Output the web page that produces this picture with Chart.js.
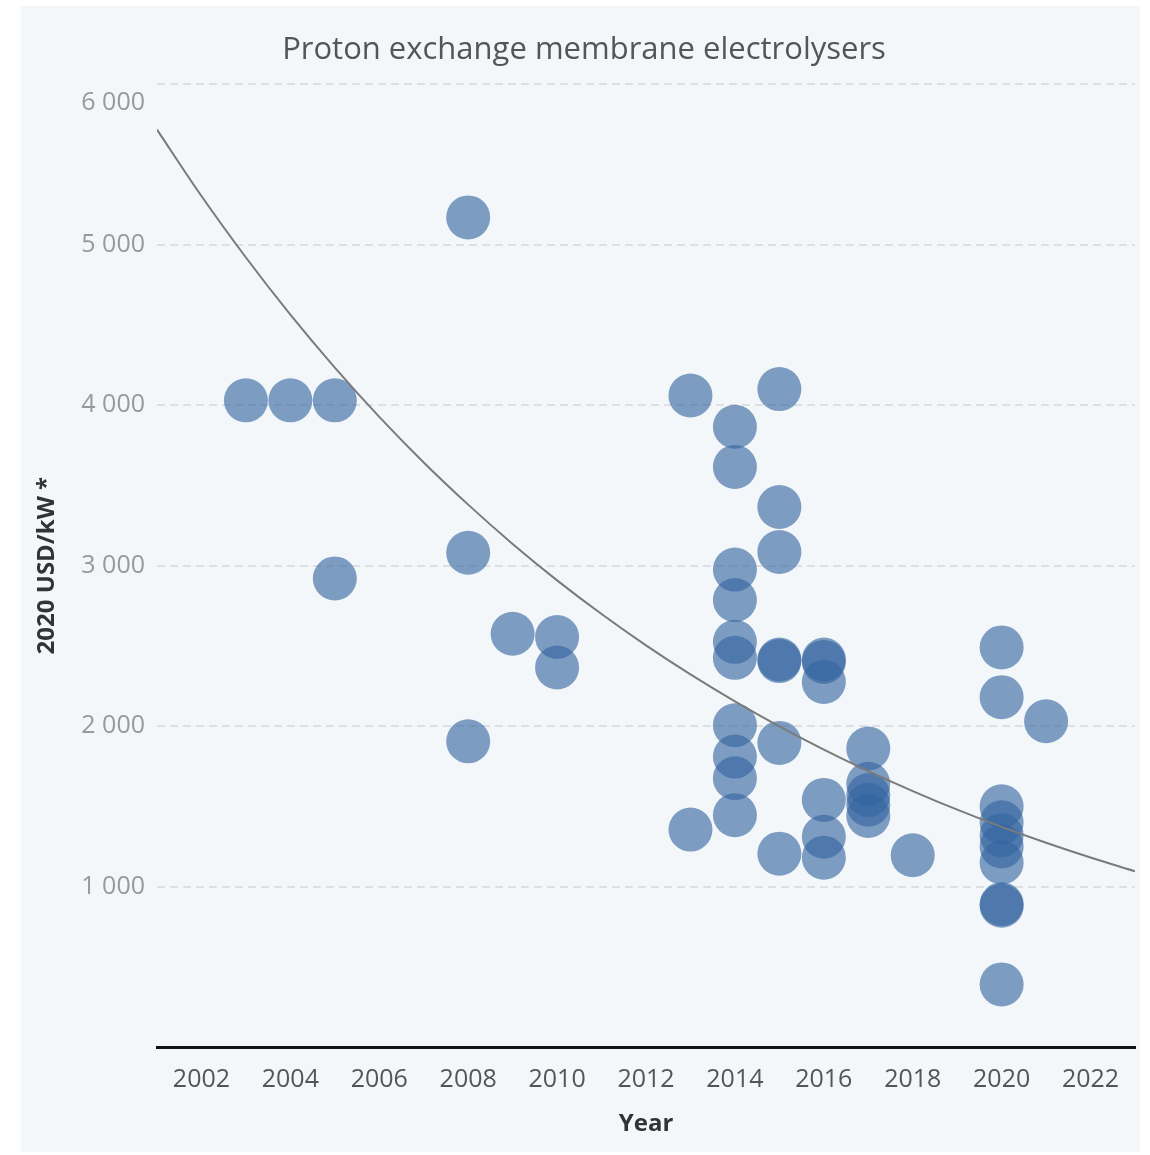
<!DOCTYPE html>
<html>
<head>
<meta charset="utf-8">
<title>Proton exchange membrane electrolysers</title>
<script src="https://cdn.jsdelivr.net/npm/chart.js@4.4.1/dist/chart.umd.min.js"></script>
<style>
    html, body { margin: 0; padding: 0; background: #ffffff; }
    #wrap { position: relative; width: 1150px; height: 1155px; }
</style>
</head>
<body>
<div id="wrap"><canvas id="chartCanvas" width="1150" height="1155"></canvas></div>
<script>
// project cost points (year, 2020 USD/kW)
const pointYears = [
    2003, 2004, 2005, 2005,
    2008, 2008, 2008, 2009, 2010, 2010,
    2013, 2013,
    2014, 2014, 2014, 2014, 2014, 2014, 2014, 2014, 2014, 2014,
    2015, 2015, 2015, 2015, 2015, 2015, 2015,
    2016, 2016, 2016, 2016, 2016, 2016,
    2017, 2017, 2017, 2017, 2017,
    2018,
    2020, 2020, 2020, 2020, 2020, 2020, 2020, 2020, 2020, 2020,
    2021
];
const pointCosts = [
    4030, 4030, 4030, 2920,
    5170, 3080, 1905, 2575, 2555, 2365,
    4060, 1355,
    3865, 3615, 2975, 2785, 2525, 2425, 2005, 1810, 1675, 1445,
    4100, 3365, 3085, 2415, 2405, 1895, 1205,
    2415, 2400, 2275, 1540, 1310, 1180,
    1860, 1640, 1570, 1510, 1440,
    1195,
    2490, 2180, 1500, 1400, 1320, 1250, 1150, 890, 880, 390,
    2030
];

// trend curve
const trendYears = [2001, 2002, 2003, 2004, 2005, 2006, 2007, 2008, 2009, 2010, 2011, 2012,
                    2013, 2014, 2015, 2016, 2017, 2018, 2019, 2020, 2021, 2022, 2023];
const trendCosts = [5717, 5303, 4920, 4564, 4234, 3927, 3643, 3380, 3135, 2908, 2698, 2503,
                    2322, 2154, 1998, 1853, 1719, 1595, 1479, 1372, 1273, 1181, 1095];

const xTicks = [2002, 2004, 2006, 2008, 2010, 2012, 2014, 2016, 2018, 2020, 2022];
const yTicks = [1000, 2000, 3000, 4000, 5000, 6000];

const pointData = pointYears.map((yr, i) => ({ x: yr, y: pointCosts[i] }));
const trendData = trendYears.map((yr, i) => ({ x: yr, y: trendCosts[i] }));

// light panel behind the whole chart
const panelBg = {
    id: 'panelBg',
    beforeDraw(chart) {
        const ctx = chart.ctx;
        ctx.save();
        ctx.fillStyle = '#f3f7fa';
        ctx.fillRect(21, 6, 1119, 1146);
        ctx.restore();
    }
};

// the top y label sits a bit below its gridline in the original
const topLabelNudge = {
    id: 'topLabelNudge',
    beforeDraw(chart) {
        const scale = chart.scales.y;
        const items = scale.getLabelItems(chart.chartArea);
        const top = items[items.length - 1];
        if (top && !top._nudged) {
            top.options.translation[1] += 19;
            top._nudged = true;
        }
    }
};

const fmt = v => String(v).replace(/\B(?=(\d{3})+(?!\d))/g, ' ');

const ctx = document.getElementById('chartCanvas').getContext('2d');
new Chart(ctx, {
    type: 'scatter',
    data: {
        datasets: [
            {
                type: 'line',
                label: 'Trend',
                data: trendData,
                borderColor: '#7a7a7a',
                borderWidth: 2,
                pointRadius: 0,
                cubicInterpolationMode: 'monotone',
                fill: false,
                order: 0
            },
            {
                label: 'PEM electrolysers',
                data: pointData,
                backgroundColor: 'rgba(52, 100, 160, 0.62)',
                borderWidth: 0,
                pointRadius: 22,
                pointHoverRadius: 22,
                order: 1
            }
        ]
    },
    options: {
        responsive: false,
        animation: false,
        layout: {
            autoPadding: false,
            padding: { left: 33, right: 15, top: 0, bottom: 16 }
        },
        plugins: {
            legend: { display: false },
            tooltip: { enabled: false },
            title: {
                display: true,
                text: 'Proton exchange membrane electrolysers',
                color: '#555555',
                font: { family: 'Open Sans', size: 31, weight: 'normal' },
                padding: { top: 32, bottom: 15 }
            }
        },
        scales: {
            x: {
                type: 'linear',
                min: 2001,
                max: 2023,
                afterBuildTicks: scale => { scale.ticks = xTicks.map(v => ({ value: v })); },
                afterFit: scale => { scale.height = 92; },
                grid: { display: false, drawTicks: false },
                border: { display: true, color: '#111111', width: 3 },
                ticks: {
                    color: '#555555',
                    padding: 18,
                    maxRotation: 0,
                    autoSkip: false,
                    font: { family: 'Open Sans', size: 25 },
                    callback: v => String(v)
                },
                title: {
                    display: true,
                    text: 'Year',
                    color: '#333333',
                    font: { family: 'Open Sans', size: 24, weight: 'bold' },
                    padding: 0
                }
            },
            y: {
                min: 0,
                max: 6000,
                afterBuildTicks: scale => { scale.ticks = yTicks.map(v => ({ value: v })); },
                afterFit: scale => { scale.width = 124; },
                grid: { color: '#dcdfe3', lineWidth: 2, drawTicks: false },
                border: { display: false, dash: [8, 5] },
                ticks: {
                    color: '#999999',
                    padding: 12,
                    font: { family: 'Open Sans', size: 25 },
                    callback: v => fmt(v)
                },
                title: {
                    display: true,
                    text: '2020 USD/kW *',
                    color: '#333333',
                    font: { family: 'Open Sans', size: 24, weight: 'bold' },
                    padding: 0
                }
            }
        }
    },
    plugins: [panelBg, topLabelNudge]
});
</script>
</body>
</html>
